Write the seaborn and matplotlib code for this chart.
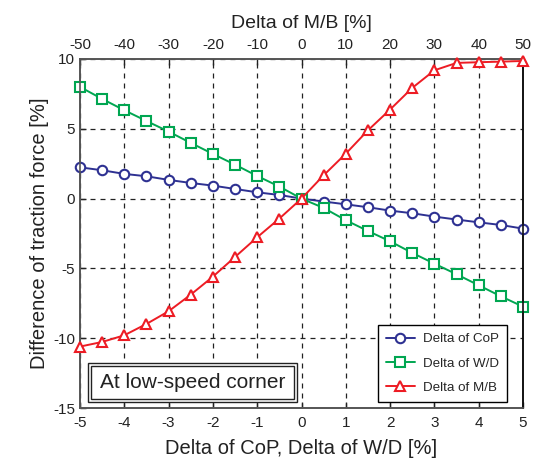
import matplotlib
matplotlib.use("Agg")
import matplotlib.pyplot as plt
import seaborn as sns
import pandas as pd
from matplotlib.patches import Rectangle

# ---- data ----
delta_pct = [-5, -4.5, -4, -3.5, -3, -2.5, -2, -1.5, -1, -0.5, 0,
             0.5, 1, 1.5, 2, 2.5, 3, 3.5, 4, 4.5, 5]
delta_mb = [-50, -45, -40, -35, -30, -25, -20, -15, -10, -5, 0,
            5, 10, 15, 20, 25, 30, 35, 40, 45, 50]
cop_vals = [2.24, 2.03, 1.77, 1.60, 1.34, 1.12, 0.93, 0.69, 0.45, 0.26, 0.0,
            -0.21, -0.41, -0.62, -0.86, -1.05, -1.29, -1.50, -1.70, -1.89, -2.15]
wd_vals = [8.0, 7.14, 6.33, 5.56, 4.80, 3.99, 3.20, 2.43, 1.62, 0.86, 0.0,
           -0.67, -1.55, -2.32, -3.06, -3.89, -4.66, -5.42, -6.21, -7.0, -7.74]
mb_vals = [-10.6, -10.27, -9.79, -8.98, -8.07, -6.88, -5.59, -4.18, -2.77, -1.43, 0.0,
           1.67, 3.22, 4.89, 6.38, 7.93, 9.19, 9.72, 9.77, 9.81, 9.86]
series_labels = ["Delta of CoP", "Delta of W/D", "Delta of M/B"]
bottom_ticks = [-5, -4, -3, -2, -1, 0, 1, 2, 3, 4, 5]
top_ticks = [-50, -40, -30, -20, -10, 0, 10, 20, 30, 40, 50]
y_ticks = [-15, -10, -5, 0, 5, 10]

sns.set_style("ticks")
plt.rcParams["font.family"] = ["Liberation Sans", "DejaVu Sans"]
plt.rcParams["axes.unicode_minus"] = False

blue = "#2e3192"
green = "#00a651"
red = "#ed1c24"
spine_col = "#555555"

fig = plt.figure(figsize=(5.37, 4.62), dpi=100)
ax = fig.add_axes([80/537, 54/462, 443/537, 349/462])
ax2 = ax.twiny()

df = pd.DataFrame({"x": delta_pct, "cop": cop_vals, "wd": wd_vals})
dfm = pd.DataFrame({"x": delta_mb, "mb": mb_vals})

mk = dict(markersize=6.8, markeredgewidth=1.5, markerfacecolor="white", linewidth=1.4,
          clip_on=False)
sns.lineplot(data=df, x="x", y="cop", ax=ax, color=blue, marker="o",
             markeredgecolor=blue, zorder=5, **mk)
h1 = ax.lines[-1]
sns.lineplot(data=df, x="x", y="wd", ax=ax, color=green, marker="s",
             markeredgecolor=green, zorder=5, **mk)
h2 = ax.lines[-1]
sns.lineplot(data=dfm, x="x", y="mb", ax=ax2, color=red, marker="^",
             markeredgecolor=red, zorder=5, **mk)
h3 = ax2.lines[-1]

ax.set_xlim(-5, 5)
ax2.set_xlim(-50, 50)
ax.set_ylim(-15, 10)
ax.set_xticks(bottom_ticks)
ax2.set_xticks(top_ticks)
ax.set_yticks(y_ticks)
ax.set_xticklabels([str(t) for t in bottom_ticks])
ax2.set_xticklabels([str(t) for t in top_ticks])

ax.grid(True, color="#222222", linestyle=(0, (4, 4)), linewidth=0.9)
ax.set_axisbelow(True)

for a in (ax, ax2):
    a.tick_params(direction="in", length=4, width=1, colors="#222222",
                  labelsize=11, labelcolor="#222222")
    for s in a.spines.values():
        s.set_color(spine_col)
        s.set_linewidth(1.2)
    a.spines["right"].set_color("#111111")
ax.tick_params(axis="x", pad=6)
ax2.tick_params(axis="x", pad=5)

ax.set_xlabel("Delta of CoP, Delta of W/D [%]", fontsize=14.5, color="#222222", labelpad=6)
ax2.set_xlabel("Delta of M/B [%]", fontsize=14, color="#222222", labelpad=7)
ax.set_ylabel("Difference of traction force [%]", fontsize=14.5, color="#222222", labelpad=3)
ax2.set_ylabel("")

leg = ax2.legend([h1, h2, h3], series_labels, loc="lower right",
                 bbox_to_anchor=(0.964, 0.017), borderaxespad=0, fontsize=9.6,
                 frameon=True, fancybox=False, edgecolor="black", framealpha=1,
                 handlelength=2.2, borderpad=0.6, labelspacing=0.9,
                 handletextpad=0.6)
leg.get_frame().set_linewidth(1.0)
leg.set_zorder(20)

# double-bordered annotation box
ax2.add_patch(Rectangle((0.018, 0.017), 0.472, 0.112, transform=ax.transAxes,
                        facecolor="white", edgecolor="#222222", linewidth=1.0, zorder=15))
ax2.add_patch(Rectangle((0.025, 0.026), 0.458, 0.094, transform=ax.transAxes,
                        facecolor="white", edgecolor="#222222", linewidth=1.0, zorder=16))
ax2.text(0.254, 0.073, "At low-speed corner", transform=ax.transAxes,
         ha="center", va="center", fontsize=15, color="#222222", zorder=17)

fig.savefig("out.png", dpi=100)
